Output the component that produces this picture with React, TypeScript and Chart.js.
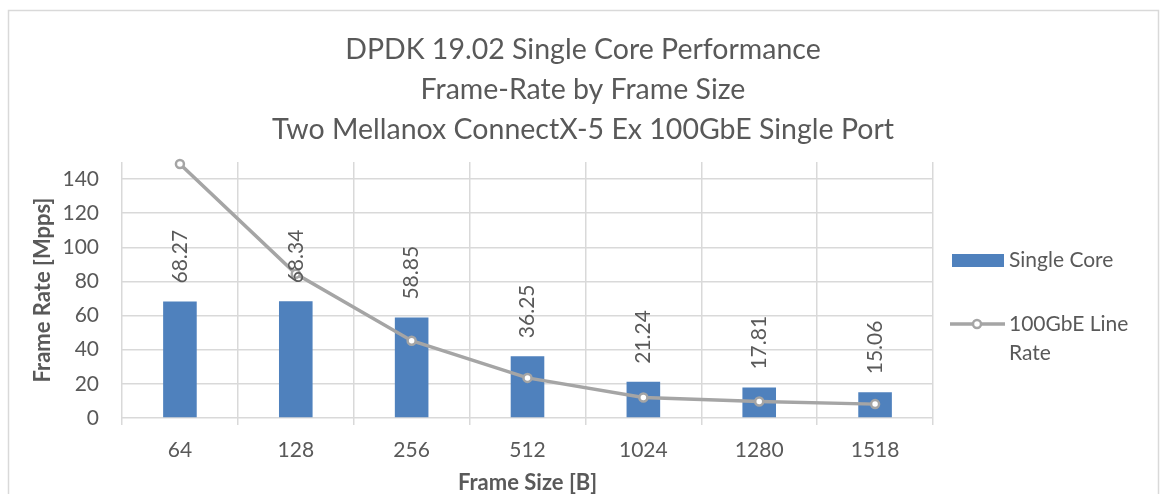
import React, { useEffect, useRef } from "react";
import { Chart, registerables } from "chart.js";

Chart.register(...registerables);

const categories = ["64", "128", "256", "512", "1024", "1280", "1518"];
const singleCore = [68.27, 68.34, 58.85, 36.25, 21.24, 17.81, 15.06];
const lineRate = [148.81, 84.46, 45.29, 23.5, 11.97, 9.62, 8.13];
const yTickValues = [0, 20, 40, 60, 80, 100, 120, 140];
const titleLines = [
  "DPDK 19.02 Single Core Performance",
  "Frame-Rate by Frame Size",
  "Two Mellanox ConnectX-5 Ex 100GbE Single Port",
];
const seriesNames = ["Single Core", "100GbE Line Rate"];
const yAxisTitle = "Frame Rate [Mpps]";
const xAxisTitle = "Frame Size [B]";

const FONT = "Lato, 'Open Sans', sans-serif";
const TEXT = "#595959";
const GRID = "#d9d9d9";
const BAR = "#4f81bd";
const LINE = "#a5a5a5";

function wrap(ctx: CanvasRenderingContext2D, text: string, maxW: number): string[] {
  const words = text.split(" ");
  const lines: string[] = [];
  let cur = "";
  for (const w of words) {
    const t = cur ? cur + " " + w : w;
    if (ctx.measureText(t).width > maxW && cur) {
      lines.push(cur);
      cur = w;
    } else cur = t;
  }
  if (cur) lines.push(cur);
  return lines;
}

const customPlugin = {
  id: "custom",
  beforeDraw(chart: any) {
    const ctx = chart.ctx as CanvasRenderingContext2D;
    ctx.save();
    ctx.fillStyle = "#fff";
    ctx.fillRect(0, 0, chart.width, chart.height);
    ctx.strokeStyle = GRID;
    ctx.lineWidth = 1.5;
    ctx.strokeRect(8.5, 10.5, 1150, 600);
    ctx.fillStyle = TEXT;
    ctx.font = `28.5px ${FONT}`;
    ctx.textAlign = "center";
    ctx.textBaseline = "middle";
    titleLines.forEach((t, i) => ctx.fillText(t, 583, 50 + i * 40));
    ctx.restore();
  },
  afterDatasetsDraw(chart: any) {
    const ctx = chart.ctx as CanvasRenderingContext2D;
    ctx.save();
    ctx.fillStyle = TEXT;
    ctx.font = `21px ${FONT}`;
    const meta = chart.getDatasetMeta(0);
    meta.data.forEach((bar: any, i: number) => {
      ctx.save();
      ctx.translate(bar.x, bar.y - 18);
      ctx.rotate(-Math.PI / 2);
      ctx.textAlign = "left";
      ctx.textBaseline = "middle";
      ctx.fillText(singleCore[i].toFixed(2), 0, 0);
      ctx.restore();
    });

    // legend
    const lx = 952;
    const tx = 1009;
    ctx.textAlign = "left";
    ctx.textBaseline = "middle";
    ctx.fillStyle = BAR;
    ctx.fillRect(lx, 254, 52, 13);
    ctx.fillStyle = TEXT;
    ctx.fillText(chart.data.datasets[0].label, tx, 260);
    ctx.strokeStyle = LINE;
    ctx.lineWidth = 3.5;
    ctx.beginPath();
    ctx.moveTo(lx - 2, 324);
    ctx.lineTo(lx + 53, 324);
    ctx.stroke();
    ctx.beginPath();
    ctx.arc(lx + 25, 324, 4, 0, Math.PI * 2);
    ctx.fillStyle = "#fff";
    ctx.fill();
    ctx.lineWidth = 2.5;
    ctx.stroke();
    ctx.fillStyle = TEXT;
    const lines = wrap(ctx, chart.data.datasets[1].label, 140);
    lines.forEach((l, i) => ctx.fillText(l, tx, 324 + i * 29));
    ctx.restore();
  },
};

export default function App() {
  const ref = useRef<HTMLCanvasElement | null>(null);
  useEffect(() => {
    if (!ref.current) return;
    const chart = new Chart(ref.current, {
      type: "bar",
      data: {
        labels: categories,
        datasets: [
          {
            type: "bar",
            label: seriesNames[0],
            data: singleCore,
            backgroundColor: BAR,
            barPercentage: 0.29,
            categoryPercentage: 1,
            order: 2,
          },
          {
            type: "line",
            label: seriesNames[1],
            data: lineRate,
            borderColor: LINE,
            borderWidth: 3.5,
            pointRadius: 4,
            pointBackgroundColor: "#fff",
            pointBorderColor: LINE,
            pointBorderWidth: 2.5,
            tension: 0,
            clip: false,
            order: 1,
          } as any,
        ],
      },
      options: {
        animation: false,
        responsive: true,
        maintainAspectRatio: false,
        layout: { padding: { top: 162, left: 0, right: 231, bottom: 0 } },
        plugins: {
          legend: { display: false },
          title: { display: false },
          tooltip: { enabled: false },
        },
        scales: {
          x: {
            offset: true,
            grid: { offset: true, color: GRID, lineWidth: 1.5, tickLength: 7, drawTicks: true },
            border: { display: false },
            ticks: { color: TEXT, font: { family: FONT, size: 21 }, padding: 13 },
            title: {
              display: true,
              text: xAxisTitle,
              color: TEXT,
              font: { family: FONT, size: 22, weight: "bold" },
              padding: { top: 0, bottom: -2 },
            },
            afterFit: (s: any) => {
              s.height = 76;
            },
          },
          y: {
            min: 0,
            max: 150,
            grid: { color: GRID, lineWidth: 1.5, drawTicks: false },
            border: { display: false },
            ticks: { color: TEXT, font: { family: FONT, size: 21 }, padding: 23 },
            title: {
              display: true,
              text: yAxisTitle,
              color: TEXT,
              font: { family: FONT, size: 22, weight: "bold" },
              padding: { top: 30, bottom: 0 },
            },
            afterBuildTicks: (s: any) => {
              s.ticks = yTickValues.map((v) => ({ value: v }));
            },
            afterFit: (s: any) => {
              s.width = 122;
            },
          },
        },
      } as any,
      plugins: [customPlugin],
    });
    return () => chart.destroy();
  }, []);
  return (
    <div style={{ position: "absolute", left: 0, top: 0, width: 1164, height: 494 }}>
      <canvas ref={ref} />
    </div>
  );
}
